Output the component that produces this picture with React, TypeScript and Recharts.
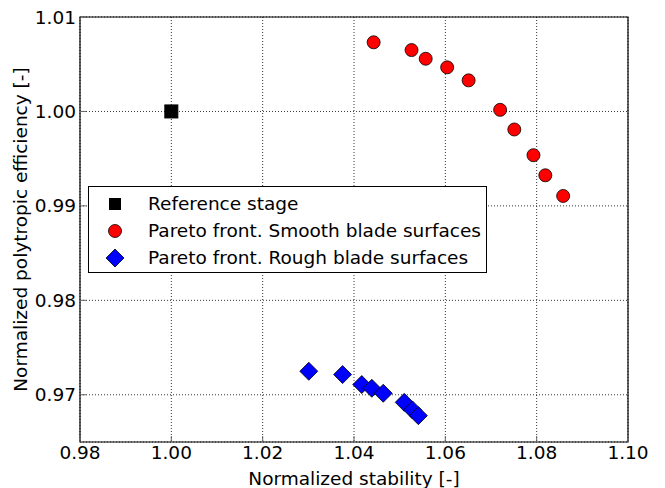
import { ScatterChart, Scatter, XAxis, YAxis, CartesianGrid, ReferenceArea } from 'recharts';

// Reference design point
const referenceStability = [1.0];
const referenceEfficiency = [1.0];

// Pareto front with smooth blade surfaces
const smoothStability = [1.0443, 1.0526, 1.0557, 1.0604, 1.0651, 1.072, 1.0751, 1.0793, 1.0819, 1.0858];
const smoothEfficiency = [1.00732, 1.0065, 1.00558, 1.00467, 1.00329, 1.00017, 0.99809, 0.99537, 0.99324, 0.99105];

// Pareto front with rough blade surfaces
const roughStability = [1.0301, 1.0375, 1.0417, 1.0439, 1.0464, 1.051, 1.0528, 1.0541];
const roughEfficiency = [0.97249, 0.97214, 0.97108, 0.97069, 0.97016, 0.9692, 0.9684, 0.96779];

const xTicks = [0.98, 1.0, 1.02, 1.04, 1.06, 1.08, 1.1];
const yTicks = [0.97, 0.98, 0.99, 1.0, 1.01];

const FONT = 'DejaVu Sans, sans-serif';
const FS = 18.5;

const toPoints = (xs: number[], ys: number[]) => xs.map((x, i) => ({ x, y: ys[i] }));

const Square = ({ cx, cy }: any) => (
  <rect x={cx - 6.5} y={cy - 6.5} width={13} height={13} fill="#000" stroke="#000" />
);
const Dot = ({ cx, cy }: any) => <circle cx={cx} cy={cy} r={6.5} fill="#ff0000" stroke="#000" strokeWidth={0.8} />;
const Diamond = ({ cx, cy }: any) => (
  <polygon
    points={`${cx},${cy - 9} ${cx + 9},${cy} ${cx},${cy + 9} ${cx - 9},${cy}`}
    fill="#0000ff"
    stroke="#000"
    strokeWidth={0.8}
  />
);

const tickStyle = { fontSize: FS, fontFamily: FONT, fill: '#000' };
const labelStyle = { fontSize: FS, fontFamily: FONT, fill: '#000' };
const fmt = (v: number) => v.toFixed(2);
const blank = () => '';

function LegendBox() {
  const rows = [
    { label: 'Reference stage', icon: <rect x={4} y={4} width={12} height={12} fill="#000" /> },
    { label: 'Pareto front. Smooth blade surfaces', icon: <circle cx={10} cy={10} r={6.5} fill="#ff0000" stroke="#000" strokeWidth={0.8} /> },
    { label: 'Pareto front. Rough blade surfaces', icon: <polygon points="10,1 19,10 10,19 1,10" fill="#0000ff" stroke="#000" strokeWidth={0.8} /> },
  ];
  return (
    <div
      style={{
        position: 'absolute', left: 88, top: 186, width: 397, height: 85,
        border: '1px solid #000', background: '#fff', fontFamily: FONT, fontSize: FS,
      }}
    >
      {rows.map((r, i) => (
        <div key={r.label} style={{ position: 'absolute', left: 0, top: 3 + i * 27, height: 27, display: 'flex', alignItems: 'center' }}>
          <svg width={20} height={20} style={{ marginLeft: 16 }}>{r.icon}</svg>
          <span style={{ marginLeft: 23, whiteSpace: 'nowrap' }}>{r.label}</span>
        </div>
      ))}
    </div>
  );
}

export default function App() {
  return (
    <div style={{ position: 'absolute', left: 0, top: 0, width: 665, height: 488, background: '#fff' }}>
      <ScatterChart width={665} height={488} margin={{ top: 16, right: 36, bottom: 0, left: 0 }}>
        <CartesianGrid stroke="#000" strokeDasharray="1 2" strokeWidth={0.8} />
        <XAxis
          dataKey="x" type="number" domain={[0.98, 1.1]} ticks={xTicks} tickFormatter={fmt}
          height={46} tickSize={-6} tickMargin={10} tick={tickStyle} axisLine={false}
          label={{ value: 'Normalized stability [-]', position: 'center', dy: 13, style: labelStyle }}
        />
        <XAxis
          xAxisId="top" orientation="top" dataKey="x" type="number" domain={[0.98, 1.1]} ticks={xTicks}
          tickFormatter={blank} height={1} tickSize={-6} axisLine={false}
        />
        <YAxis
          dataKey="y" type="number" domain={[0.965, 1.01]} ticks={yTicks} tickFormatter={fmt}
          width={80} tickSize={-6} tickMargin={10} tick={tickStyle} axisLine={false}
          label={{ value: 'Normalized polytropic efficiency [-]', angle: -90, position: 'center', dx: -20, style: labelStyle }}
        />
        <YAxis
          yAxisId="right" orientation="right" dataKey="y" type="number" domain={[0.965, 1.01]} ticks={yTicks}
          tickFormatter={blank} width={1} tickSize={-6} axisLine={false}
        />
        <ReferenceArea x1={0.98} x2={1.1} y1={0.965} y2={1.01} fill="none" stroke="#000" strokeWidth={1.2} />
        <Scatter data={toPoints(referenceStability, referenceEfficiency)} shape={Square} isAnimationActive={false} />
        <Scatter data={toPoints(smoothStability, smoothEfficiency)} shape={Dot} isAnimationActive={false} />
        <Scatter data={toPoints(roughStability, roughEfficiency)} shape={Diamond} isAnimationActive={false} />
      </ScatterChart>
      <LegendBox />
    </div>
  );
}
